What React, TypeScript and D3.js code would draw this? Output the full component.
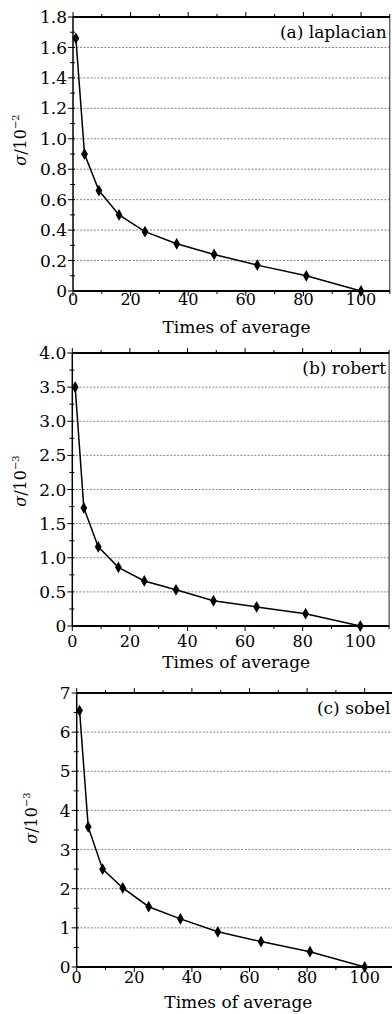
import React from "react";
import * as d3 from "d3";

// averaging counts (x) and noise sigma for the three edge operators
const times = [1, 4, 9, 16, 25, 36, 49, 64, 81, 100];
const laplacian = [1.66, 0.9, 0.66, 0.5, 0.39, 0.31, 0.24, 0.17, 0.1, 0];
const robert = [3.5, 1.73, 1.16, 0.86, 0.66, 0.53, 0.37, 0.28, 0.18, 0];
const sobel = [6.55, 3.58, 2.5, 2.02, 1.54, 1.23, 0.9, 0.65, 0.39, 0];

const xTicks = [0, 20, 40, 60, 80, 100];
const lapTicks = ["0", "0.2", "0.4", "0.6", "0.8", "1.0", "1.2", "1.4", "1.6", "1.8"];
const robTicks = ["0", "0.5", "1.0", "1.5", "2.0", "2.5", "3.0", "3.5", "4.0"];
const sobTicks = ["0", "1", "2", "3", "4", "5", "6", "7"];

const FONT = "'DejaVu Serif', serif";

const panels = [
  { name: "(a) laplacian", exp: "−2", values: laplacian, ticks: lapTicks, step: 0.2,
    top: 17, bottom: 291, left: 73, xMax: 110, digitGap: 14, titleGap: 42, labX: 26, labY: 140 },
  { name: "(b) robert", exp: "−3", values: robert, ticks: robTicks, step: 0.5,
    top: 353, bottom: 626, left: 72.3, xMax: 110, digitGap: 21, titleGap: 42, labX: 26, labY: 481 },
  { name: "(c) sobel", exp: "−3", values: sobel, ticks: sobTicks, step: 1,
    top: 693, bottom: 967, left: 76.7, xMax: 110, digitGap: 16, titleGap: 41, labX: 37, labY: 818 },
];

type P = (typeof panels)[number];

const Panel = ({ p }: { p: P }) => {
  const yMax = (p.ticks.length - 1) * p.step;
  const x = d3.scaleLinear().domain([0, p.xMax]).range([p.left, p.left + p.xMax * 2.88]);
  const y = d3.scaleLinear().domain([0, yMax]).range([p.bottom, p.top]);
  const right = x(p.xMax);
  const line = d3
    .line<number>()
    .x((_, i) => x(times[i]))
    .y((d) => y(d));
  const diamond = d3.symbol().type(d3.symbolDiamond).size(40)();
  const xMinor = d3.range(0, p.xMax + 0.1, 10);
  const yMinor = d3.range(0, yMax + 1e-9, p.step / 2);

  return (
    <g fontFamily={FONT}>
      {p.ticks.slice(1, -1).map((_, i) => (
        <line key={"g" + i} x1={p.left} x2={right} y1={y((i + 1) * p.step)} y2={y((i + 1) * p.step)}
          stroke="#666" strokeWidth={0.8} strokeDasharray="2,1.5" />
      ))}
      <line x1={right} x2={right} y1={p.top} y2={p.bottom} stroke="#222" strokeWidth={1} />
      <line x1={p.left} x2={p.left} y1={p.top} y2={p.bottom} stroke="#000" strokeWidth={1.5} />
      <line x1={p.left} x2={right} y1={p.top} y2={p.top} stroke="#000" strokeWidth={2} />
      <line x1={p.left} x2={right} y1={p.bottom} y2={p.bottom} stroke="#000" strokeWidth={2} />
      {xMinor.map((v) => {
        const len = v % 20 === 0 ? 5 : 3;
        return (
          <g key={"xt" + v} stroke="#000" strokeWidth={1}>
            <line x1={x(v)} x2={x(v)} y1={p.top} y2={p.top - len} />
            <line x1={x(v)} x2={x(v)} y1={p.bottom} y2={p.bottom + len} />
          </g>
        );
      })}
      {yMinor.map((v, i) => {
        const len = i % 2 === 0 ? 5 : 3;
        return <line key={"yt" + i} x1={p.left - len} x2={p.left + 2} y1={y(v)} y2={y(v)} stroke="#000" strokeWidth={1} />;
      })}
      {p.ticks.map((t, i) => (
        <text key={"yl" + t} x={p.left - 6} y={y(i * p.step)} dy="0.36em" textAnchor="end" fontSize={17}>
          {t}
        </text>
      ))}
      {xTicks.map((t) => (
        <text key={"xl" + t} x={x(t)} y={p.bottom + p.digitGap} textAnchor="middle" fontSize={16}>
          {t}
        </text>
      ))}
      <text x={(p.left + 392) / 2 + 4} y={p.bottom + p.titleGap} textAnchor="middle" fontSize={17}>
        Times of average
      </text>
      <text x={right - 3} y={p.top + 21} textAnchor="end" fontSize={17}>
        {p.name}
      </text>
      <text transform={`translate(${p.labX},${p.labY}) rotate(-90)`} textAnchor="middle" fontSize={16}>
        <tspan fontStyle="italic">σ</tspan>/10
        <tspan dy={-7} fontSize={10}>{p.exp}</tspan>
      </text>
      <path d={line(p.values) ?? ""} fill="none" stroke="#000" strokeWidth={1.5} />
      {p.values.map((v, i) => (
        <path key={"m" + i} d={diamond} transform={`translate(${x(times[i])},${y(v)})`} fill="#000" />
      ))}
    </g>
  );
};

export default function App() {
  return (
    <svg width={392} height={1014} style={{ position: "absolute", left: 0, top: 0, background: "#fff" }}>
      {panels.map((p) => (
        <Panel key={p.name} p={p} />
      ))}
    </svg>
  );
}
